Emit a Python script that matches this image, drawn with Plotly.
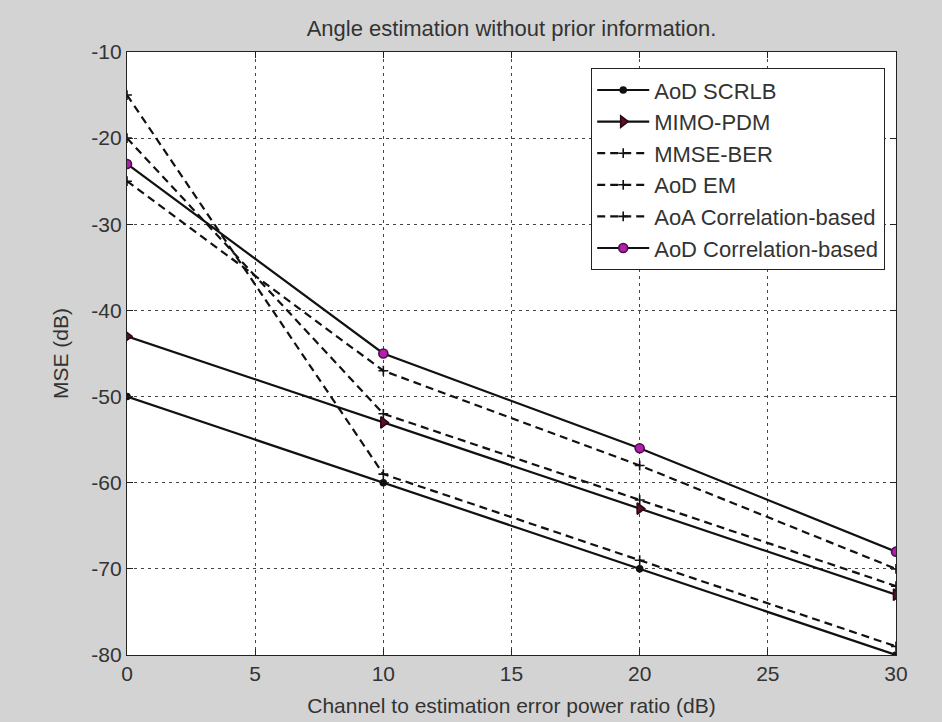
import plotly.graph_objects as go

x = [0, 10, 20, 30]
aod_scrlb = [-50, -60, -70, -80]
mimo_pdm = [-43, -53, -63, -73]
mmse_ber = [-15, -59, -69, -79]
aod_em = [-20, -52, -62, -72]
aoa_corr = [-25, -47, -58, -70]
aod_corr = [-23, -45, -56, -68]

x_ticks = [0, 5, 10, 15, 20, 25, 30]
y_ticks = [-80, -70, -60, -50, -40, -30, -20, -10]
y_tick_text = ["-80", "-70", "-60", "-50", "-40", "-30", "-20", "-10"]

fig = go.Figure()

def add(name, y, dash, symbol, mcolor, msize, mline):
    fig.add_trace(go.Scatter(
        x=x, y=y, name=name, mode="lines+markers",
        line=dict(color="#111111", width=2.2, dash=dash),
        marker=dict(symbol=symbol, color=mcolor, size=msize,
                    line=dict(color=mline, width=1.6)),
    ))

add("AoD SCRLB", aod_scrlb, "solid", "circle", "#111111", 6, "#111111")
add("MIMO-PDM", mimo_pdm, "solid", "triangle-right", "#5a1028", 10, "#2a0a14")
add("MMSE-BER", mmse_ber, "8px,5px", "cross-thin", "#111111", 7, "#111111")
add("AoD EM", aod_em, "8px,5px", "cross-thin", "#111111", 7, "#111111")
add("AoA Correlation-based", aoa_corr, "8px,5px", "cross-thin", "#111111", 7, "#111111")
add("AoD Correlation-based", aod_corr, "solid", "circle", "#b020b0", 9, "#4a1040")

axis_common = dict(
    showline=True, linecolor="#222222", linewidth=1.2, mirror="ticks",
    ticks="inside", ticklen=6, tickcolor="#222222",
    showgrid=True, gridcolor="#444444", gridwidth=1, griddash="3px,4px",
    zeroline=False, tickfont=dict(size=21, color="#333333"), automargin=False,
)

fig.update_xaxes(range=[0, 30], tickvals=x_ticks,
                 title=dict(text="Channel to estimation error power ratio (dB)",
                            font=dict(size=21, color="#333333"), standoff=14),
                 **axis_common)
fig.update_yaxes(range=[-80, -10], tickvals=y_ticks, ticktext=y_tick_text,
                 title=dict(text="MSE (dB)", font=dict(size=21, color="#333333"), standoff=16),
                 **axis_common)

fig.update_layout(
    width=942, height=722,
    margin=dict(l=127, r=46, t=52, b=67),
    paper_bgcolor="#d3d3d3", plot_bgcolor="#ffffff",
    font=dict(family="Liberation Sans, Arial, sans-serif", size=21, color="#333333"),
    title=dict(text="Angle estimation without prior information.",
               x=(127 + 896) / 2 / 942, xanchor="center", y=1 - 28 / 722, yanchor="middle",
               font=dict(size=22, color="#333333")),
    legend=dict(x=0.9857, xanchor="right", y=0.9735, yanchor="top",
                bgcolor="#ffffff", bordercolor="#222222", borderwidth=1.2,
                font=dict(size=22, color="#333333"), itemwidth=52, tracegroupgap=0),
    showlegend=True,
)

fig.write_html("out.html")
